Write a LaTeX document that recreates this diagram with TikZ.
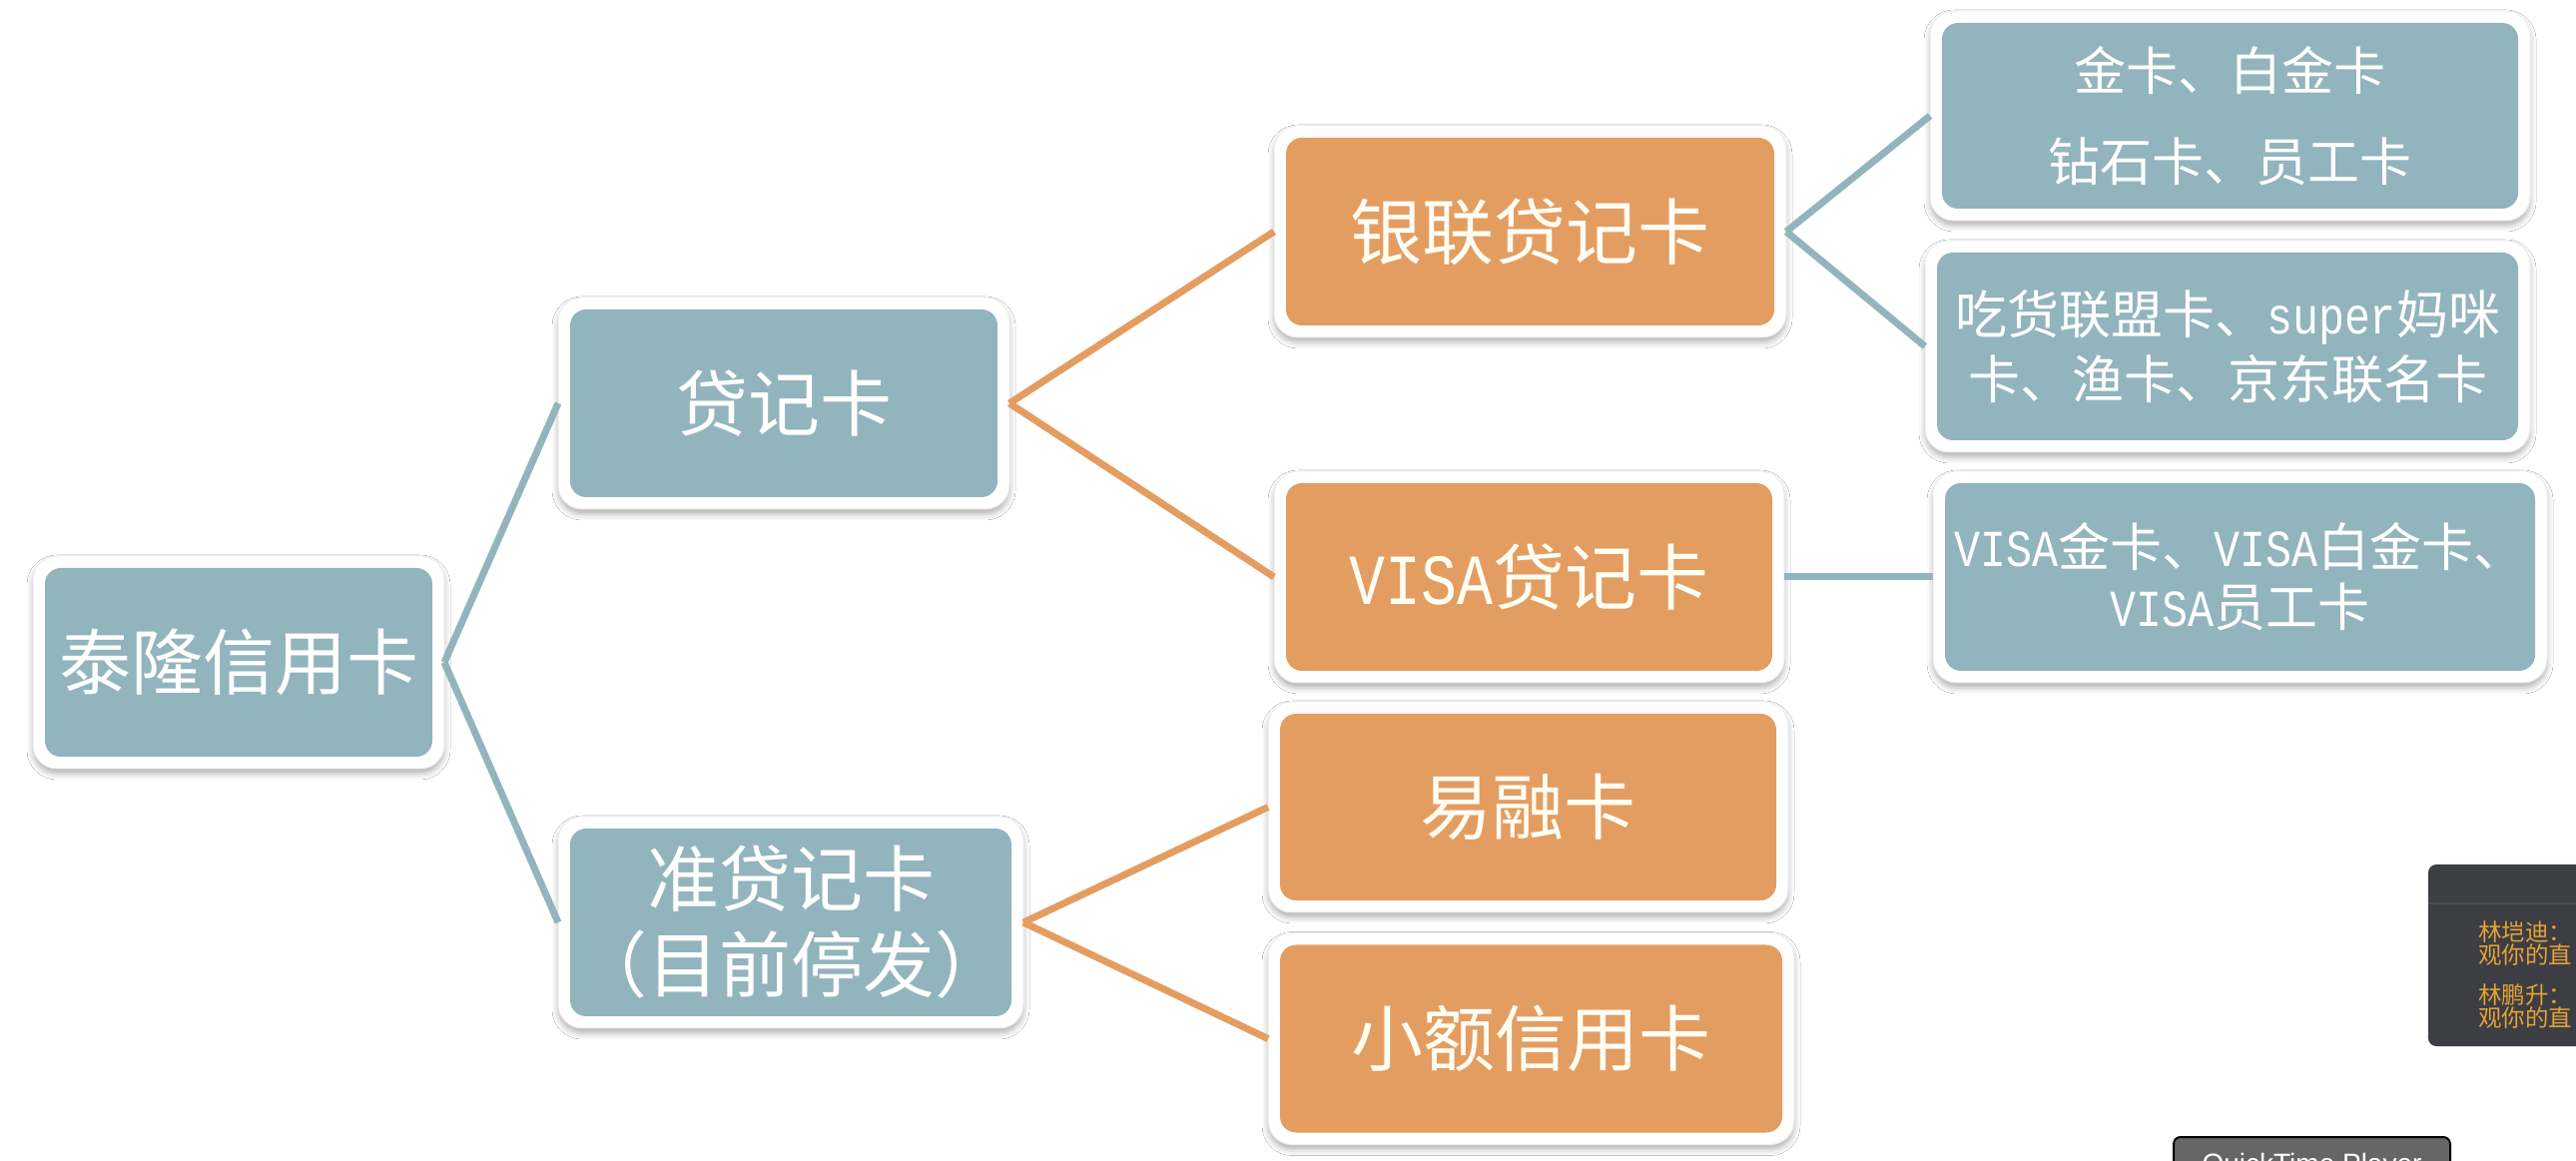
\documentclass[tikz,border=0pt]{standalone}
\usepackage{fontspec}
\setmainfont{Noto Sans CJK SC}
\newfontfamily\latf[FakeStretch=0.833]{Liberation Mono}
\newfontfamily\qtf{Liberation Sans}
\usetikzlibrary{shadows.blur}
\definecolor{tealc}{HTML}{92B4BD}
\definecolor{orangec}{HTML}{E49D60}
\definecolor{chatbg}{HTML}{3C3E44}
\definecolor{chattx}{HTML}{E3A236}
\pgfdeclarelayer{background}
\pgfsetlayers{background,main}
\newcommand\myVISA{{\latf VISA}}
\newcommand\mysuper{{\latf super}}
\begin{document}
\begin{tikzpicture}[x=1pt,y=1pt,
  card/.style={rectangle, rounded corners=16pt, inner sep=0pt, outer sep=12pt, text=white, align=center},
  tealcard/.style={card, fill=tealc},
  orangecard/.style={card, fill=orangec, text=white!96!yellow},
  bigtext/.style={font=\fontsize{72}{86}\selectfont},
  smalltext/.style={font=\fontsize{52}{62}\selectfont},
  frame/.style={fill=white, draw=black!7, line width=1pt, rounded corners=24pt,
    blur shadow={shadow xshift=0pt, shadow yshift=-5pt, shadow blur radius=6pt, shadow opacity=30}},
  tline/.style={draw=tealc, line width=7pt},
  oline/.style={draw=orangec, line width=7pt},
  chattext/.style={anchor=west, inner sep=0pt, text=chattx, font=\fontsize{23.5}{23.5}\selectfont, align=left},
]
\useasboundingbox (0,0) rectangle (2580,1162);
\begin{pgfonlayer}{background}
\fill[white] (0,0) rectangle (2580,1162);
\end{pgfonlayer}

\node[tealcard, bigtext, minimum width=388pt, minimum height=189pt] (root) at (239,498.5) {泰隆信用卡};
\node[tealcard, bigtext, minimum width=428pt, minimum height=188pt] (dj) at (785,758) {贷记卡};
\node[tealcard, bigtext, minimum width=442pt, minimum height=188pt] (zdj) at (792,238) {准贷记卡\\（目前停发）};
\node[orangecard, bigtext, minimum width=489pt, minimum height=188pt] (yl) at (1532.5,930) {银联贷记卡};
\node[orangecard, bigtext, minimum width=487pt, minimum height=188pt] (visa) at (1531.5,584) {\myVISA 贷记卡};
\node[orangecard, bigtext, minimum width=497pt, minimum height=187pt] (yr) at (1530.5,353.5) {易融卡};
\node[orangecard, bigtext, minimum width=503pt, minimum height=188pt] (xe) at (1533.5,121.5) {小额信用卡};
\node[tealcard, smalltext, minimum width=577pt, minimum height=186pt] (jk) at (2233.5,1046) {金卡、白金卡\\[29pt]钻石卡、员工卡};
\node[tealcard, smalltext, minimum width=582pt, minimum height=188pt] (ch) at (2231,815) {吃货联盟卡、\mysuper 妈咪\\[3pt]卡、渔卡、京东联名卡};
\node[tealcard, smalltext, minimum width=591pt, minimum height=188pt] (vk) at (2243.5,584) {\myVISA 金卡、\myVISA 白金卡、\\[-2pt]\myVISA 员工卡};

\begin{pgfonlayer}{background}
\foreach \n in {root,dj,zdj,yl,visa,yr,xe,jk,ch,vk}{
  \path[frame] (\n.south west) rectangle (\n.north east);
}
\end{pgfonlayer}

\draw[tline] (root.east) -- (dj.west);
\draw[tline] (root.east) -- (zdj.west);
\draw[oline] (dj.east) -- (yl.west);
\draw[oline] (dj.east) -- (visa.west);
\draw[oline] (zdj.east) -- (yr.west);
\draw[oline] (zdj.east) -- (xe.west);
\draw[tline] (yl.east) -- (jk.west);
\draw[tline] (yl.east) -- (ch.west);
\draw[tline] (visa.east) -- (vk.west);

% screen overlays
\fill[chatbg, rounded corners=8pt] (2432,114) rectangle (2620,296);
\draw[black!70, line width=1.5pt] (2432,257) -- (2600,257);
\node[chattext] (c1) at (2482,217) {林垲迪：\\观你的直};
\node[chattext] (c2) at (2482,154) {林鹏升：\\观你的直};
\draw[fill=black!60, draw=black, line width=2pt, rounded corners=7pt] (2177,-30) rectangle (2454,23);
\node[anchor=base, inner sep=0pt, text=white, font=\qtf\fontsize{28}{30}\selectfont] (qt) at (2315.5,-13) {QuickTime Player};
\end{tikzpicture}
\end{document}
